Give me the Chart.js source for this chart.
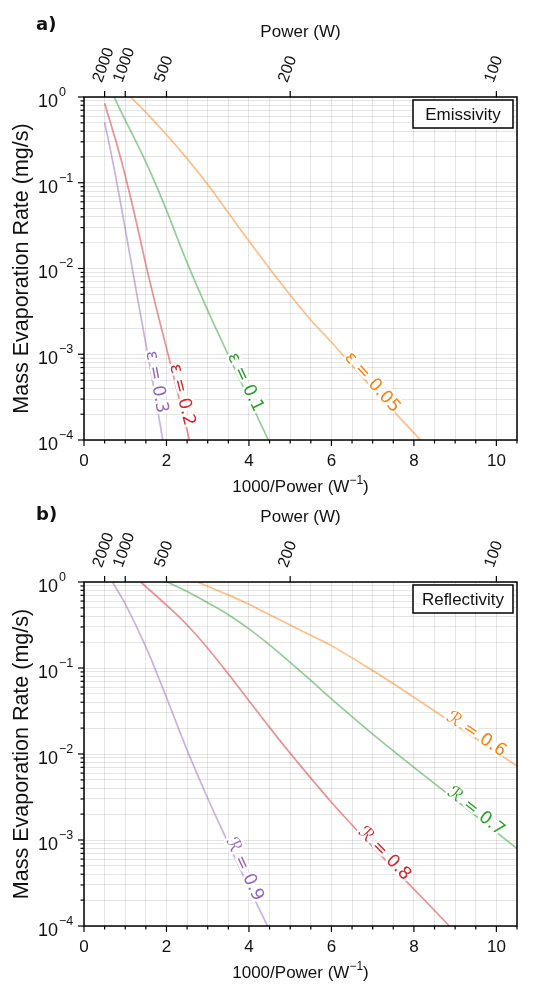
<!DOCTYPE html>
<html>
<head>
<meta charset="utf-8">
<title>Mass evaporation rate vs power</title>
<script src="https://cdn.jsdelivr.net/npm/chart.js@4.4.1/dist/chart.umd.min.js"></script>
<style>
  html, body { margin: 0; padding: 0; background: #fff; }
  #wrap { width: 534px; height: 1002px; }
  canvas { display: block; }
</style>
</head>
<body>
<div id="wrap">
  <canvas id="panelA" width="534" height="501"></canvas>
  <canvas id="panelB" width="534" height="501"></canvas>
</div>
<script>
// Values.
// x = 1000/Power (1/W), y = mass evaporation rate (mg/s)

// panel a) emissivity
const epsNames = ['ε = 0.05', 'ε = 0.1', 'ε = 0.2', 'ε = 0.3'];
const eps005X = [1.13, 1.5, 2.0, 2.5, 3.0, 3.5, 4.0, 4.5, 5.0, 5.5, 6.0, 6.5, 7.0, 7.5, 8.16];
const eps005Y = [1.0, 0.661, 0.363, 0.191, 0.0955, 0.0447, 0.0209, 0.0100, 0.00490, 0.00251, 0.00138, 0.000741, 0.000398, 0.000219, 0.0001];
const eps01X = [0.73, 1.0, 1.25, 1.5, 1.75, 2.0, 2.5, 3.0, 3.5, 4.0, 4.47];
const eps01Y = [1.0, 0.537, 0.309, 0.174, 0.0933, 0.0479, 0.0117, 0.00324, 0.000977, 0.000302, 0.0001];
const eps02X = [0.5, 0.7, 0.9, 1.1, 1.3, 1.5, 1.75, 2.0, 2.25, 2.57];
const eps02Y = [0.843, 0.404, 0.185, 0.0769, 0.0299, 0.0111, 0.00352, 0.00118, 0.000394, 0.0000938];
const eps03X = [0.5, 0.7, 0.9, 1.1, 1.3, 1.5, 1.7, 1.91];
const eps03Y = [0.507, 0.174, 0.0537, 0.0155, 0.00447, 0.00132, 0.000389, 0.0001];
const epsLabelX = [6.92, 3.83, 2.29, 1.67];

// panel b) reflectivity
const refNames = ['ℛ = 0.6', 'ℛ = 0.7', 'ℛ = 0.8', 'ℛ = 0.9'];
const ref06X = [2.75, 3.5, 4.0, 4.5, 5.0, 5.5, 6.0, 7.0, 8.0, 9.0, 10.0, 10.5];
const ref06Y = [1.0, 0.708, 0.550, 0.417, 0.316, 0.240, 0.182, 0.0933, 0.0457, 0.0219, 0.0105, 0.00724];
const ref07X = [2.02, 2.5, 3.0, 3.5, 4.0, 4.5, 5.0, 5.5, 6.0, 7.0, 8.0, 9.0, 10.0, 10.5];
const ref07Y = [1.0, 0.776, 0.575, 0.417, 0.285, 0.186, 0.116, 0.0716, 0.0437, 0.0170, 0.00700, 0.00295, 0.00123, 0.000794];
const ref08X = [1.375, 2.0, 2.5, 3.0, 3.5, 4.0, 4.5, 5.0, 6.0, 7.0, 8.0, 8.86];
const ref08Y = [1.0, 0.537, 0.316, 0.170, 0.0851, 0.0417, 0.0204, 0.0102, 0.00275, 0.000832, 0.000269, 0.0001];
const ref09X = [0.69, 1.0, 1.5, 2.0, 2.5, 3.0, 3.5, 4.0, 4.45];
const ref09Y = [1.0, 0.557, 0.176, 0.0453, 0.0111, 0.00306, 0.000914, 0.000279, 0.0001];
const refLabelX = [9.46, 9.45, 7.22, 3.81];

// axes
const xTickLabels = [0, 2, 4, 6, 8, 10];
const powerTicks = [2000, 1000, 500, 200, 100];
const yDecades = [1e-4, 1e-3, 1e-2, 1e-1, 1];
const yExponents = ['−4', '−3', '−2', '−1', '0'];
const yMinorSteps = [2, 3, 4, 5, 6, 7, 8, 9];

// orange, green, red, purple
const seriesRGB = ['255,127,14', '44,160,44', '214,39,40', '148,103,189'];
const gridColor = 'rgba(0,0,0,0.1)';
const sans = '"Liberation Sans", Arial, sans-serif';

// minor + major tick values for the log axis
const yTickValues = [];
yDecades.forEach(function (d, i) {
    yTickValues.push(d);
    if (i < yDecades.length - 1) {
        yMinorSteps.forEach(function (m) { yTickValues.push(+(m * d).toPrecision(3)); });
    }
});

const panels = {
    panelA: {
        letter: 'a)', letterY: 25, legend: 'Emissivity', names: epsNames, labelX: epsLabelX,
        xs: [eps005X, eps01X, eps02X, eps03X], ys: [eps005Y, eps01Y, eps02Y, eps03Y],
        top: 97, bottom: 440
    },
    panelB: {
        letter: 'b)', letterY: 14, legend: 'Reflectivity', names: refNames, labelX: refLabelX,
        xs: [ref06X, ref07X, ref08X, ref09X], ys: [ref06Y, ref07Y, ref08Y, ref09Y],
        top: 81, bottom: 425
    }
};

function seriesPoints(xs, ys) {
    return xs.map(function (x, i) { return { x: x, y: ys[i] }; });
}

function line(ctx, x1, y1, x2, y2) {
    ctx.beginPath(); ctx.moveTo(x1, y1); ctx.lineTo(x2, y2); ctx.stroke();
}

// text with a superscript piece
function drawParts(ctx, parts, cx, cy) {
    let w = 0;
    parts.forEach(function (p) { ctx.font = p.size + 'px ' + sans; w += ctx.measureText(p.t).width; });
    let x = cx - w / 2;
    ctx.textAlign = 'left';
    parts.forEach(function (p) {
        ctx.font = p.size + 'px ' + sans;
        ctx.fillText(p.t, x, cy + p.dy);
        x += ctx.measureText(p.t).width;
    });
}

const decorPlugin = {
    id: 'decor',
    beforeDraw: function (chart) {
        const ctx = chart.ctx;
        ctx.save();
        ctx.fillStyle = '#fff';
        ctx.fillRect(0, 0, chart.width, chart.height);
        ctx.restore();
    },
    afterDatasetsDraw: function (chart) {
        const panel = panels[chart.canvas.id];
        const ctx = chart.ctx;
        const xs = chart.scales.x;
        panel.labelX.forEach(function (lx, i) {
            const pts = chart.getDatasetMeta(i).data;
            const px = xs.getPixelForValue(lx);
            let k = 0;
            while (k < pts.length - 2 && pts[k + 1].x < px) k++;
            const a = pts[k], b = pts[k + 1];
            const t = (px - a.x) / (b.x - a.x);
            const py = a.y + t * (b.y - a.y);
            const ang = Math.atan2(b.y - a.y, b.x - a.x);
            ctx.save();
            ctx.translate(px, py);
            ctx.rotate(ang);
            ctx.font = '17.5px "DejaVu Sans"';
            ctx.textAlign = 'center';
            ctx.textBaseline = 'alphabetic';
            ctx.lineJoin = 'round';
            ctx.strokeStyle = '#fff';
            ctx.lineWidth = 5;
            ctx.strokeText(panel.names[i], 0, 1);
            ctx.fillStyle = 'rgb(' + seriesRGB[i] + ')';
            ctx.fillText(panel.names[i], 0, 1);
            ctx.restore();
        });
    },
    afterDraw: function (chart) {
        const panel = panels[chart.canvas.id];
        const ctx = chart.ctx;
        const area = chart.chartArea;
        const x = chart.scales.x, x2 = chart.scales.x2, y = chart.scales.y;
        ctx.save();
        ctx.strokeStyle = '#000';
        ctx.fillStyle = '#111';
        ctx.lineWidth = 1.2;

        // tick marks
        x.ticks.forEach(function (t) {
            const p = x.getPixelForValue(t.value);
            line(ctx, p, area.bottom, p, area.bottom + (xTickLabels.includes(t.value) ? 6 : 3.5));
        });
        x2.ticks.forEach(function (t) {
            const p = x2.getPixelForValue(t.value);
            line(ctx, p, area.top, p, area.top - 6);
        });
        y.ticks.forEach(function (t) {
            const p = y.getPixelForValue(t.value);
            line(ctx, area.left, p, area.left - (yDecades.includes(t.value) ? 6 : 3.5), p);
        });

        // frame
        ctx.lineWidth = 1.5;
        ctx.strokeRect(area.left, area.top, area.right - area.left, area.bottom - area.top);

        // y tick labels 10^n
        ctx.textBaseline = 'middle';
        ctx.textAlign = 'left';
        yDecades.forEach(function (d, i) {
            const p = y.getPixelForValue(d);
            ctx.font = '18px ' + sans;
            ctx.fillText('10', 38, p + 5);
            const w = ctx.measureText('10').width;
            ctx.font = '12.5px ' + sans;
            ctx.fillText(yExponents[i], 38 + w + 1, p - 4.5);
        });

        // axis titles
        const cx = (area.left + area.right) / 2;
        ctx.textAlign = 'center';
        ctx.font = '17px ' + sans;
        ctx.fillText('Power (W)', cx, area.top - 65);
        drawParts(ctx, [
            { t: '1000/Power (W', size: 17, dy: 0 },
            { t: '−1', size: 12, dy: -6 },
            { t: ')', size: 17, dy: 0 }
        ], cx, area.bottom + 47);

        ctx.save();
        ctx.translate(22, (area.top + area.bottom) / 2);
        ctx.rotate(-Math.PI / 2);
        ctx.textAlign = 'center';
        ctx.font = '21.5px ' + sans;
        ctx.fillText('Mass Evaporation Rate (mg/s)', 0, 0);
        ctx.restore();

        // panel letter
        ctx.textAlign = 'left';
        ctx.font = 'bold 18px "DejaVu Sans"';
        ctx.fillText(panel.letter, 36, panel.letterY);

        // legend box
        const bw = 100, bh = 28;
        const bx = area.right - 4 - bw, by = area.top + 3;
        ctx.fillStyle = '#fff';
        ctx.fillRect(bx, by, bw, bh);
        ctx.strokeRect(bx, by, bw, bh);
        ctx.fillStyle = '#111';
        ctx.textAlign = 'center';
        ctx.font = '17px ' + sans;
        ctx.fillText(panel.legend, bx + bw / 2, by + bh / 2 + 1);
        ctx.restore();
    }
};

function buildChart(id) {
    const panel = panels[id];
    const canvasH = 501;
    const datasets = panel.xs.map(function (xs, i) {
        return {
            label: panel.names[i],
            data: seriesPoints(xs, panel.ys[i]),
            borderColor: 'rgba(' + seriesRGB[i] + ',0.5)',
            borderWidth: 1.7,
            pointRadius: 0,
            tension: 0.4,
            fill: false
        };
    });

    return new Chart(document.getElementById(id), {
        type: 'line',
        data: { datasets: datasets },
        plugins: [decorPlugin],
        options: {
            responsive: false,
            animation: false,
            events: [],
            layout: { padding: { left: 0, right: 17, top: 0, bottom: 0 } },
            plugins: { legend: { display: false }, tooltip: { enabled: false } },
            scales: {
                x: {
                    type: 'linear', position: 'bottom', min: 0, max: 10.5,
                    grid: { color: gridColor, lineWidth: 1, drawTicks: false },
                    border: { display: false },
                    ticks: {
                        stepSize: 0.5, autoSkip: false, maxRotation: 0, padding: 11,
                        color: '#111', font: { family: 'Liberation Sans', size: 17 },
                        callback: function (v) { return xTickLabels.includes(v) ? String(v) : ''; }
                    },
                    afterFit: function (s) { s.height = canvasH - panel.bottom; }
                },
                x2: {
                    type: 'linear', position: 'top', min: 0, max: 10.5,
                    grid: { display: false },
                    border: { display: false },
                    afterBuildTicks: function (s) {
                        s.ticks = powerTicks.map(function (p) { return { value: 1000 / p }; });
                    },
                    ticks: {
                        autoSkip: false, minRotation: 70, maxRotation: 70, padding: 4, labelOffset: 11,
                        color: '#111', font: { family: 'Liberation Sans', size: 16 },
                        callback: function (v, i) { return String(powerTicks[i]); }
                    },
                    afterFit: function (s) { s.height = panel.top; }
                },
                y: {
                    type: 'logarithmic', position: 'left', min: 1e-4, max: 1,
                    grid: { color: gridColor, lineWidth: 1, drawTicks: false },
                    border: { display: false },
                    afterBuildTicks: function (s) {
                        s.ticks = yTickValues.map(function (v) { return { value: v }; });
                    },
                    ticks: { display: false },
                    afterFit: function (s) { s.width = 84; }
                }
            }
        }
    });
}

buildChart('panelA');
buildChart('panelB');
</script>
</body>
</html>
